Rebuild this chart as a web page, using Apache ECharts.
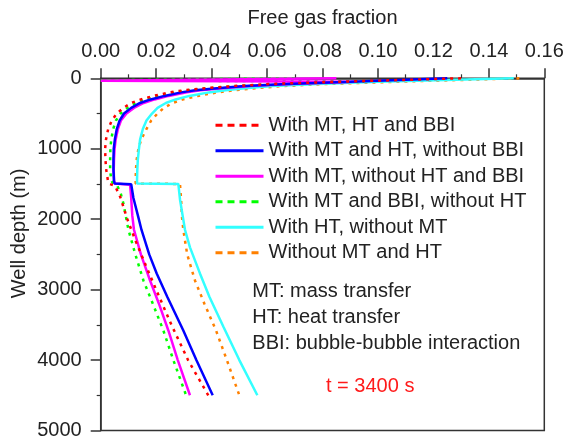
<!DOCTYPE html>
<html>
<head>
<meta charset="utf-8">
<script src="https://cdn.jsdelivr.net/npm/echarts/dist/echarts.min.js"></script>
<style>
  html, body { margin: 0; padding: 0; background: #ffffff; }
  #chart { width: 566px; height: 441px; }
</style>
</head>
<body>
<div id="chart"></div>
<script>
// Free gas fraction profiles along the well (depth in m), t = 3400 s
const depthRed = [0, 50, 80, 110, 140, 170, 200, 250, 300, 350, 420, 500, 600, 720, 870, 1000, 1150, 1300, 1450, 1495, 1530, 1680, 1850, 2000, 2300, 2650, 3000, 3500, 4000, 4500];
const gasRed = [0.130, 0.085, 0.062, 0.048, 0.038, 0.030, 0.025, 0.019, 0.0145, 0.011, 0.0082, 0.0058, 0.0040, 0.0027, 0.0019, 0.0016, 0.0017, 0.0020, 0.0026, 0.0030, 0.0052, 0.0070, 0.0084, 0.0096, 0.0125, 0.0162, 0.0200, 0.0255, 0.0315, 0.0388];

const depthBlue = [0, 50, 80, 110, 140, 170, 200, 250, 300, 350, 420, 500, 600, 720, 870, 1000, 1150, 1300, 1450, 1495, 1505, 1700, 1960, 2150, 2500, 2770, 3100, 3580, 4000, 4500];
const gasBlue = [0.125, 0.090, 0.067, 0.052, 0.042, 0.034, 0.029, 0.023, 0.0180, 0.0142, 0.0110, 0.0084, 0.0068, 0.0058, 0.0051, 0.0047, 0.0046, 0.0046, 0.0048, 0.0050, 0.0110, 0.0118, 0.0135, 0.0147, 0.0175, 0.0202, 0.0240, 0.0298, 0.0345, 0.0404];

const depthMagenta = [0, 35, 50, 80, 110, 140, 170, 200, 250, 300, 350, 420, 500, 600, 720, 870, 1000, 1150, 1300, 1450, 1495, 1510, 1700, 1950, 2150, 2500, 2870, 3200, 3580, 4000, 4500];
const gasMagenta = [0.085, 0.0, 0.092, 0.069, 0.054, 0.044, 0.036, 0.031, 0.0245, 0.0195, 0.0155, 0.0120, 0.0093, 0.0073, 0.0062, 0.0054, 0.0050, 0.0048, 0.0047, 0.0048, 0.0050, 0.0106, 0.0110, 0.0114, 0.0120, 0.0145, 0.0178, 0.0210, 0.0244, 0.0278, 0.0322];

const depthGreen = [0, 30, 45, 80, 110, 140, 170, 200, 250, 300, 350, 420, 500, 600, 720, 870, 1000, 1150, 1300, 1450, 1495, 1530, 1630, 1780, 2150, 2500, 2870, 3200, 3580, 4000, 4500];
const gasGreen = [0.070, 0.0, 0.095, 0.065, 0.050, 0.040, 0.032, 0.027, 0.021, 0.0165, 0.0128, 0.0097, 0.0072, 0.0055, 0.0045, 0.0038, 0.0035, 0.0034, 0.0034, 0.0038, 0.0045, 0.0060, 0.0072, 0.0082, 0.0100, 0.0125, 0.0154, 0.0188, 0.0226, 0.0262, 0.0308];

const depthCyan = [0, 50, 80, 110, 140, 170, 200, 250, 300, 350, 420, 500, 600, 720, 870, 1000, 1150, 1300, 1450, 1495, 1500, 1720, 1960, 2150, 2400, 2770, 3100, 3530, 4000, 4500];
const gasCyan = [0.149, 0.100, 0.078, 0.062, 0.052, 0.045, 0.039, 0.032, 0.027, 0.0235, 0.0205, 0.0185, 0.0165, 0.0152, 0.0142, 0.0138, 0.0134, 0.0132, 0.0131, 0.0131, 0.0280, 0.0286, 0.0296, 0.0304, 0.0322, 0.0358, 0.0392, 0.0443, 0.0500, 0.0565];

const depthOrange = [0, 50, 80, 110, 140, 170, 200, 250, 300, 350, 420, 500, 600, 720, 870, 1000, 1150, 1300, 1450, 1495, 1500, 1720, 1960, 2150, 2500, 2870, 3200, 3580, 4000, 4500];
const gasOrange = [0.151, 0.106, 0.082, 0.066, 0.056, 0.048, 0.042, 0.035, 0.0295, 0.026, 0.0228, 0.0205, 0.0182, 0.0165, 0.0146, 0.0136, 0.0130, 0.0127, 0.0126, 0.0126, 0.0286, 0.0290, 0.0293, 0.0298, 0.0312, 0.0340, 0.0374, 0.0416, 0.0455, 0.0500];

const seriesNames = [
  'With MT, HT and BBI',
  'With MT and HT, without BBI',
  'With MT, without HT and BBI',
  'With MT and BBI, without HT',
  'With HT, without MT',
  'Without MT and HT'
];

const xTicks = [0, 0.16, 0.02];      // min, max, step of the free gas fraction axis
const yTicks = [0, 5000, 1000];      // min, max, step of the well depth axis

const notes = ['MT: mass transfer', 'HT: heat transfer', 'BBI: bubble-bubble interaction'];
const timeLabel = 't = 3400 s';

const FONT = '"Liberation Sans", Arial, sans-serif';
const INK = '#222222';

function pairs(depth, gas) {
  return depth.map((d, i) => [gas[i], d]);
}

const curves = [
  { depth: depthRed, gas: gasRed, color: '#ff0000', dash: [3, 5] },
  { depth: depthBlue, gas: gasBlue, color: '#0000ff', dash: 'solid' },
  { depth: depthMagenta, gas: gasMagenta, color: '#ff00ff', dash: 'solid' },
  { depth: depthGreen, gas: gasGreen, color: '#00ff00', dash: [3, 5] },
  { depth: depthCyan, gas: gasCyan, color: '#33ffff', dash: 'solid' },
  { depth: depthOrange, gas: gasOrange, color: '#ff8000', dash: [3, 5] }
];

const chart = echarts.init(document.getElementById('chart'), null, { renderer: 'canvas' });

chart.setOption({
  animation: false,
  backgroundColor: '#ffffff',
  textStyle: { fontFamily: FONT },
  grid: {
    left: 100.7, top: 78.3, right: 21.7, bottom: 10.5,
    show: true, borderColor: '#333333', borderWidth: 1.5,
    backgroundColor: 'transparent',
    outerBoundsMode: 'none'
  },
  xAxis: {
    type: 'value',
    position: 'top',
    min: xTicks[0], max: xTicks[1], interval: xTicks[2],
    name: 'Free gas fraction',
    nameLocation: 'middle',
    nameGap: 50,
    nameMoveOverlap: false,
    nameTextStyle: { fontSize: 20, color: INK, fontFamily: FONT },
    axisLine: { show: true, lineStyle: { color: '#333333', width: 1.5 } },
    axisTick: { show: true, inside: false, length: 10, lineStyle: { color: '#333333', width: 1.5 } },
    minorTick: { show: true, splitNumber: 2, length: 4, lineStyle: { color: '#333333', width: 1.2 } },
    axisLabel: {
      fontSize: 20, color: INK, margin: 17, fontFamily: FONT,
      formatter: v => v.toFixed(2)
    },
    splitLine: { show: false }
  },
  yAxis: {
    type: 'value',
    inverse: true,
    min: yTicks[0], max: yTicks[1], interval: yTicks[2],
    name: 'Well depth (m)',
    nameLocation: 'middle',
    nameGap: 71,
    nameMoveOverlap: false,
    nameTextStyle: { fontSize: 20, color: INK, fontFamily: FONT, padding: [0, 0, 0, 42] },
    axisLine: { show: true, lineStyle: { color: '#333333', width: 1.5 } },
    axisTick: { show: true, inside: false, length: 10, lineStyle: { color: '#333333', width: 1.5 } },
    minorTick: { show: true, splitNumber: 2, length: 4, lineStyle: { color: '#333333', width: 1.2 } },
    axisLabel: { fontSize: 20, color: INK, margin: 19, fontFamily: FONT, formatter: v => String(v) },
    splitLine: { show: false }
  },
  legend: {
    orient: 'vertical',
    left: 214, top: 112.5,
    padding: 0,
    itemGap: 0,
    itemWidth: 48,
    itemHeight: 14,
    textStyle: { fontSize: 20, color: INK, fontFamily: FONT, lineHeight: 25.5 },
    data: seriesNames.map((name, i) => ({
      name,
      itemStyle: { opacity: 0 },
      lineStyle: { type: curves[i].dash === 'solid' ? 'solid' : [7, 5], width: 3 }
    }))
  },
  graphic: [
    ...notes.map((t, i) => ({
      type: 'text', left: 252.3, top: 281.5 + i * 25.8,
      style: { text: t, fontSize: 20, fill: INK, fontFamily: FONT }
    })),
    {
      type: 'text', left: 326, top: 376.5,
      style: { text: timeLabel, fontSize: 20, fill: '#ff1a1a', fontFamily: FONT }
    }
  ],
  series: curves.map((c, i) => ({
    name: seriesNames[i],
    type: 'line',
    data: pairs(c.depth, c.gas),
    symbol: 'none',
    smooth: false,
    color: c.color,
    lineStyle: { color: c.color, width: 2.5, type: c.dash },
    z: 2 + (5 - i)
  }))
});
</script>
</body>
</html>
